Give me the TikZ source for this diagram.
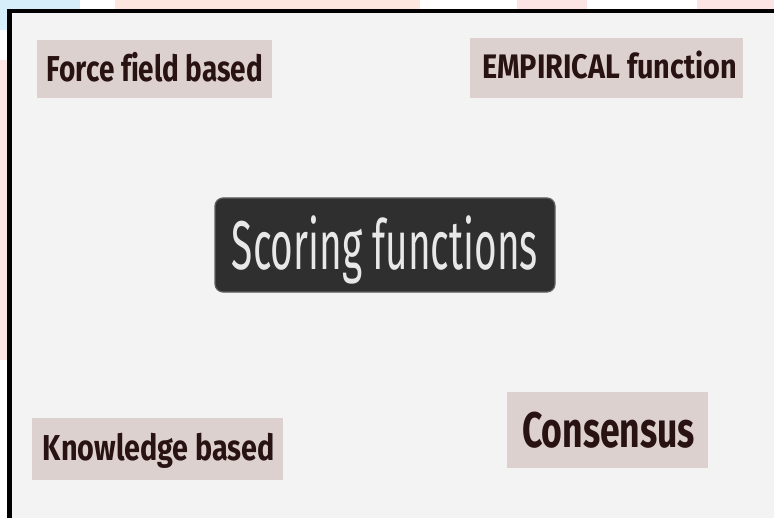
\documentclass[tikz,border=0pt]{standalone}
\usepackage{fontspec}
\usepackage{graphicx}
\setmainfont{Fira Sans}[Ligatures=NoCommon]
\definecolor{panelbg}{RGB}{243,243,243}
\definecolor{labelfill}{RGB}{221,209,208}
\definecolor{labeltext}{RGB}{40,18,18}
\definecolor{darkbox}{RGB}{47,47,47}
\definecolor{darkedge}{RGB}{95,95,95}
\definecolor{lighttext}{RGB}{232,232,232}
\definecolor{skyblue}{RGB}{214,238,250}
\definecolor{peach}{RGB}{252,230,222}
\definecolor{pinkish}{RGB}{252,228,228}
\newcommand{\fitw}[3]{\resizebox{#1}{\height}{\fontsize{#2}{#2}\selectfont #3}}
\begin{document}
\begin{tikzpicture}[x=1bp,y=-1bp,
  labelbox/.style={draw=none,fill=labelfill,inner sep=0pt},
  labeltxt/.style={inner sep=0pt,anchor=base,text=labeltext,font=\bfseries},
  centerbox/.style={draw=darkedge,line width=1.2bp,fill=darkbox,rounded corners=8bp,inner sep=0pt},
  centertxt/.style={inner sep=0pt,anchor=base,text=lighttext}]
\useasboundingbox (0,0) rectangle (774,518);
% outside strips
\fill[white] (0,0) rectangle (774,518);
\fill[skyblue] (0,0) rectangle (80,9);
\fill[skyblue] (0,0) rectangle (8,30);
\fill[peach] (115,0) rectangle (420,9);
\fill[pinkish] (517,0) rectangle (587,9);
\fill[pinkish] (697,0) rectangle (774,9);
\fill[pinkish] (0,60) rectangle (8,360);
% panel
\fill[panelbg] (8,9) rectangle (774,518);
\fill[black] (8,9) rectangle (774,13);
\fill[black] (7,9) rectangle (12,518);
% label boxes
\node[labelbox,minimum width=235bp,minimum height=58bp] (ff) at (154.5,69) {};
\node[labeltxt] (fft) at (155,82) {\fitw{216bp}{36bp}{Force field based}};
\node[labelbox,minimum width=273bp,minimum height=60bp] (emp) at (606.5,68) {};
\node[labeltxt] (empt) at (609.5,78.5) {\fitw{255bp}{34bp}{EMPIRICAL function}};
\node[labelbox,minimum width=251bp,minimum height=62bp] (kb) at (157.5,449) {};
\node[labeltxt] (kbt) at (159,460) {\fitw{232bp}{36bp}{Knowledge based}};
\node[labelbox,minimum width=201bp,minimum height=76bp] (cons) at (607.5,430) {};
\node[labeltxt] (const) at (608.5,447.5) {\fitw{173bp}{50bp}{Consensus}};
% central box
\node[centerbox,minimum width=340bp,minimum height=94bp] (sc) at (385,245) {};
\node[centertxt] (sct) at (385,269.5) {\fitw{306bp}{69bp}{Scoring functions}};
\end{tikzpicture}
\end{document}
